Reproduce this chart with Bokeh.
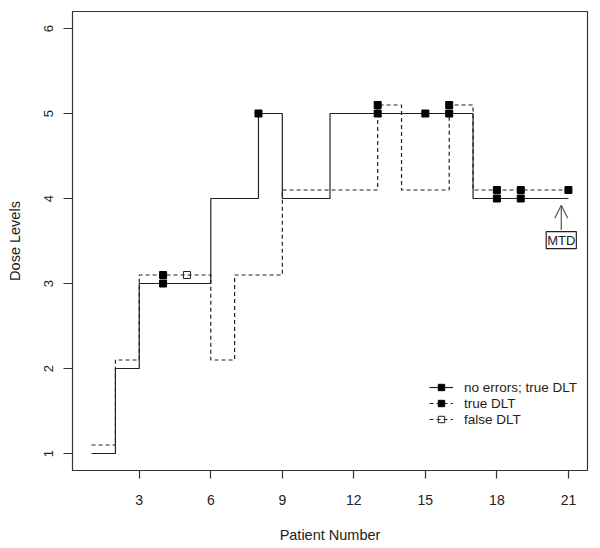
from bokeh.plotting import figure
from bokeh.models import Range1d, FixedTicker, Legend, LegendItem, Arrow, OpenHead, Label
from bokeh.embed import file_html
from bokeh.resources import INLINE

# ---- data ----
patients = list(range(1, 22))
dose_no_error = [1, 2, 3, 3, 3, 4, 4, 5, 4, 4, 5, 5, 5, 5, 5, 5, 4, 4, 4, 4, 4]
dose_with_error = [1, 2, 3, 3, 3, 2, 3, 3, 4, 4, 4, 4, 5, 4, 4, 5, 4, 4, 4, 4, 4]
error_offset = 0.1
dlt_no_error_patients = [4, 8, 13, 15, 16, 18, 19]
dlt_true_patients = [4, 13, 16, 18, 19, 21]
dlt_false_patients = [5]
x_ticks = [3, 6, 9, 12, 15, 18, 21]
y_ticks = [1, 2, 3, 4, 5, 6]
mtd_x = 20.7
mtd_arrow_from = 3.63
mtd_arrow_to = 3.92
mtd_label_y = 3.51

FONT = "Liberation Sans"
INK = "#222222"

dose_with_error_shifted = [d + error_offset for d in dose_with_error]
dlt_no_error_y = [dose_no_error[p - 1] for p in dlt_no_error_patients]
dlt_true_y = [dose_with_error_shifted[p - 1] for p in dlt_true_patients]
dlt_false_y = [dose_with_error_shifted[p - 1] for p in dlt_false_patients]

p = figure(
    frame_width=515, frame_height=459,
    min_border_left=72, min_border_right=5, min_border_top=11, min_border_bottom=70,
    x_range=Range1d(0.2, 21.8), y_range=Range1d(0.8, 6.2),
    output_backend="svg", toolbar_location=None,
)
p.grid.visible = False
p.outline_line_color = "#333333"
p.outline_line_width = 1.2
p.background_fill_color = "white"
p.border_fill_color = "white"

for ax in (p.xaxis[0], p.yaxis[0]):
    ax.axis_line_color = None
    ax.minor_tick_line_color = None
    ax.major_tick_line_color = "#333333"
    ax.major_tick_line_width = 1.2
    ax.major_tick_in = 0
    ax.major_label_text_font = FONT
    ax.major_label_text_color = INK
    ax.major_label_text_font_size = "14px"
    ax.axis_label_text_font = FONT
    ax.axis_label_text_font_style = "normal"
    ax.axis_label_text_color = INK
    ax.axis_label_text_font_size = "14.5px"

p.xaxis.ticker = FixedTicker(ticks=x_ticks)
p.yaxis.ticker = FixedTicker(ticks=y_ticks)
p.xaxis.major_tick_out = 8
p.yaxis.major_tick_out = 9
p.xaxis.major_label_standoff = 16
p.yaxis.major_label_standoff = 11
p.yaxis.major_label_orientation = "vertical"
p.yaxis.major_label_text_font_size = "13px"
p.xaxis.axis_label = "Patient Number"
p.yaxis.axis_label = "Dose Levels"
p.xaxis.axis_label_standoff = 19
p.yaxis.axis_label_standoff = 18

solid_line = p.step(patients, dose_no_error, mode="after", line_color=INK, line_width=1.2)
dashed_line = p.step(patients, dose_with_error_shifted, mode="after", line_color=INK,
                     line_width=1.2, line_dash="4 3")

solid_pts = p.scatter(dlt_no_error_patients, dlt_no_error_y, marker="square", size=7,
                      fill_color="black", line_color="black")
true_pts = p.scatter(dlt_true_patients, dlt_true_y, marker="square", size=7,
                     fill_color="black", line_color="black")
false_pts = p.scatter(dlt_false_patients, dlt_false_y, marker="square", size=7,
                      fill_color=None, line_color=INK, line_width=1)

p.add_layout(Arrow(end=OpenHead(size=13, line_color="#555555", line_width=1.2),
                   x_start=mtd_x, y_start=mtd_arrow_from, x_end=mtd_x, y_end=mtd_arrow_to,
                   line_color="#555555", line_width=1.2))
p.add_layout(Label(x=mtd_x, y=mtd_label_y, text="MTD", text_align="center",
                   text_baseline="middle", text_font=FONT, text_font_size="13px",
                   text_color=INK, border_line_color=INK, border_line_width=1.2,
                   background_fill_color="white", padding=1))

legend = Legend(items=[
    LegendItem(label="no errors; true DLT", renderers=[solid_line, solid_pts]),
    LegendItem(label="true DLT", renderers=[dashed_line, true_pts]),
    LegendItem(label="false DLT", renderers=[dashed_line, false_pts]),
], location=(357, 43))
legend.border_line_color = None
legend.background_fill_alpha = 0
legend.margin = 0
legend.padding = 0
legend.spacing = 0
legend.glyph_width = 24
legend.glyph_height = 16
legend.label_height = 16
legend.label_standoff = 11
legend.label_text_font = FONT
legend.label_text_font_size = "13.5px"
legend.label_text_color = INK
p.add_layout(legend)

open("out.html", "w").write(file_html(p, INLINE))
